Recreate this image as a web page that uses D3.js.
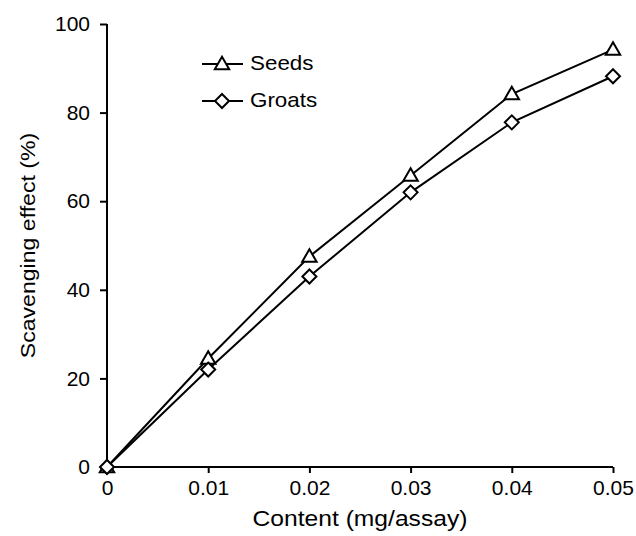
<!DOCTYPE html>
<html>
<head>
<meta charset="utf-8">
<script src="https://cdn.jsdelivr.net/npm/d3@7"></script>
<style>
  body { margin: 0; background: #fff; }
  text { font-family: "Liberation Sans", Arial, sans-serif; fill: #000; }
</style>
</head>
<body>
<svg id="chart"></svg>
<script>
// data
const contents = [0, 0.01, 0.02, 0.03, 0.04, 0.05];
const seeds = [0, 24.5, 47.5, 65.8, 84.2, 94.2];
const groats = [0, 22, 43, 62, 77.8, 88.2];
const xTicks = [0, 0.01, 0.02, 0.03, 0.04, 0.05];
const yTicks = [0, 20, 40, 60, 80, 100];

const width = 636, height = 536;
const svg = d3.select('#chart').attr('width', width).attr('height', height);

let x = d3.scaleLinear().domain([0, 0.05]).range([107, 613]);
let y = d3.scaleLinear().domain([0, 100]).range([467, 24]);

// axes
let xAxis = svg.append('g')
  .attr('transform', 'translate(0,' + y(0) + ')')
  .call(d3.axisBottom(x).tickValues(xTicks).tickSize(6).tickPadding(7)
    .tickFormat(d => d === 0 ? '0' : d3.format('.2f')(d)));
let yAxis = svg.append('g')
  .attr('transform', 'translate(' + x(0) + ',0)')
  .call(d3.axisLeft(y).tickValues(yTicks).tickSize(7).tickPadding(10));

[xAxis, yAxis].forEach(a => {
  a.select('.domain').attr('stroke', '#000').attr('stroke-width', 2);
  a.selectAll('.tick line').attr('stroke', '#000').attr('stroke-width', 2);
  a.selectAll('.tick text').attr('font-size', 21).attr('fill', '#000')
    .style('font-family', '"Liberation Sans", Arial, sans-serif');
});
yAxis.select('.domain').attr('d', 'M0,' + y(100) + 'V' + y(0));
xAxis.select('.domain').attr('d', 'M' + x(0) + ',0H' + x(0.05));

// axis titles
svg.append('text')
  .attr('x', (x(0) + x(0.05)) / 2)
  .attr('y', 526)
  .attr('text-anchor', 'middle')
  .attr('font-size', 22)
  .attr('transform', 'translate(' + (x(0) + x(0.05)) / 2 + ',0) scale(1.12,1) translate(' + (-(x(0) + x(0.05)) / 2) + ',0)')
  .text('Content (mg/assay)');

svg.append('text')
  .attr('transform', 'translate(35,' + (y(0) + y(100)) / 2 + ') rotate(-90) scale(1.1,1)')
  .attr('text-anchor', 'middle')
  .attr('font-size', 21)
  .text('Scavenging effect (%)');

// series
const triangle = d3.symbol().type(d3.symbolTriangle).size(90);
const diamond = 'M0,-7L7,0L0,7L-7,0Z';

function drawSeries(values, marker) {
  let pts = contents.map((c, i) => [c, values[i]]);
  let line = d3.line().x(d => x(d[0])).y(d => y(d[1]));
  svg.append('path')
    .datum(pts)
    .attr('d', line)
    .attr('fill', 'none')
    .attr('stroke', '#000')
    .attr('stroke-width', 2);
  svg.selectAll(null)
    .data(pts)
    .enter()
    .append('path')
    .attr('transform', d => 'translate(' + x(d[0]) + ',' + (y(d[1]) + (marker === 'tri' ? 1 : 0)) + ')')
    .attr('d', marker === 'tri' ? triangle() : diamond)
    .attr('fill', '#fff')
    .attr('stroke', '#000')
    .attr('stroke-width', 2);
}
drawSeries(seeds, 'tri');
drawSeries(groats, 'dia');

// legend
const legend = [
  { name: 'Seeds', marker: 'tri', y: 64 },
  { name: 'Groats', marker: 'dia', y: 101 }
];
legend.forEach(l => {
  svg.append('line')
    .attr('x1', 202).attr('x2', 243)
    .attr('y1', l.y).attr('y2', l.y)
    .attr('stroke', '#000').attr('stroke-width', 2);
  svg.append('path')
    .attr('transform', 'translate(222,' + (l.y + (l.marker === 'tri' ? 1 : 0)) + ')')
    .attr('d', l.marker === 'tri' ? triangle() : diamond)
    .attr('fill', '#fff').attr('stroke', '#000').attr('stroke-width', 2);
  svg.append('text')
    .attr('x', 250).attr('y', l.y + 6)
    .attr('font-size', 20)
    .attr('transform', 'translate(250,0) scale(1.12,1) translate(-250,0)')
    .text(l.name);
});
</script>
</body>
</html>
